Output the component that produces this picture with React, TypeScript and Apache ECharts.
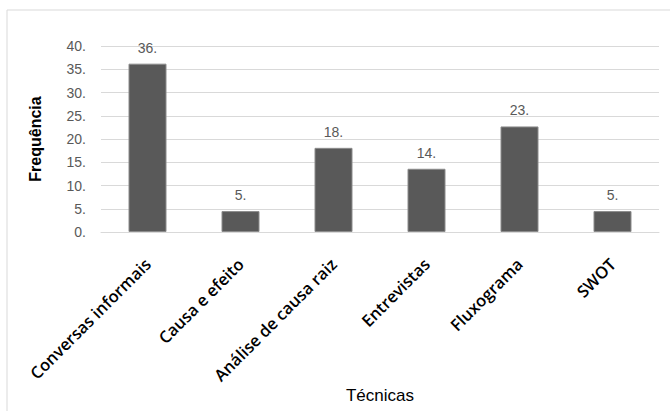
import React, { useEffect, useRef } from "react";
import * as echarts from "echarts";

const categories = ["Conversas informais", "Causa e efeito", "Análise de causa raiz", "Entrevistas", "Fluxograma", "SWOT"];
const values = [36.2, 4.5, 18.1, 13.6, 22.7, 4.5];
const yTicks = { min: 0, max: 40, interval: 5 };

export default function App() {
  const ref = useRef<HTMLDivElement>(null);
  useEffect(() => {
    if (!ref.current) return;
    const chart = echarts.init(ref.current, undefined, { renderer: "svg" });
    const narrow = "'Liberation Sans Narrow', 'Liberation Sans', Arial, sans-serif";
    const sans = "'Liberation Sans', Arial, sans-serif";
    chart.setOption({
      animation: false,
      backgroundColor: "#ffffff",
      graphic: [
        {
          type: "rect",
          shape: { x: 7, y: 10, width: 700, height: 450 },
          style: { fill: "none", stroke: "#d9d9d9", lineWidth: 1 },
          silent: true,
        },
      ],
      grid: { left: 101, right: 11, top: 46, bottom: 179 },
      xAxis: {
        type: "category",
        data: categories,
        name: "Técnicas",
        nameLocation: "middle",
        nameGap: 155,
        nameTextStyle: { fontFamily: sans, fontSize: 17, color: "#000000" },
        axisLine: { show: true, lineStyle: { color: "#d9d9d9", width: 1 } },
        axisTick: { show: false },
        axisLabel: {
          rotate: 45,
          interval: 0,
          margin: 29,
          fontFamily: "'Open Sans', 'DejaVu Sans', sans-serif",
          fontWeight: 600,
          fontSize: 16.5,
          color: "#000000",
        },
      },
      yAxis: {
        type: "value",
        min: yTicks.min,
        max: yTicks.max,
        interval: yTicks.interval,
        name: "Frequência",
        nameLocation: "middle",
        nameGap: 58,
        nameTextStyle: { fontFamily: sans, fontSize: 16, fontWeight: "bold", color: "#000000" },
        axisLine: { show: false },
        axisTick: { show: false },
        axisLabel: {
          formatter: (v: number) => v + ".",
          fontFamily: narrow,
          fontSize: 14,
          color: "#595959",
          margin: 15,
        },
        splitLine: { lineStyle: { color: "#d9d9d9", width: 1 } },
      },
      series: [
        {
          type: "bar",
          data: values,
          barWidth: 38,
          itemStyle: { color: "#595959", borderColor: "#8c8c8c", borderWidth: 1 },
          label: {
            show: true,
            position: "top",
            distance: 9,
            formatter: (p: any) => Math.round(p.value) + ".",
            fontFamily: narrow,
            fontSize: 14,
            color: "#595959",
          },
        },
      ],
    });
    return () => chart.dispose();
  }, []);
  return <div ref={ref} style={{ position: "fixed", left: 0, top: 0, width: 670, height: 411 }} />;
}
